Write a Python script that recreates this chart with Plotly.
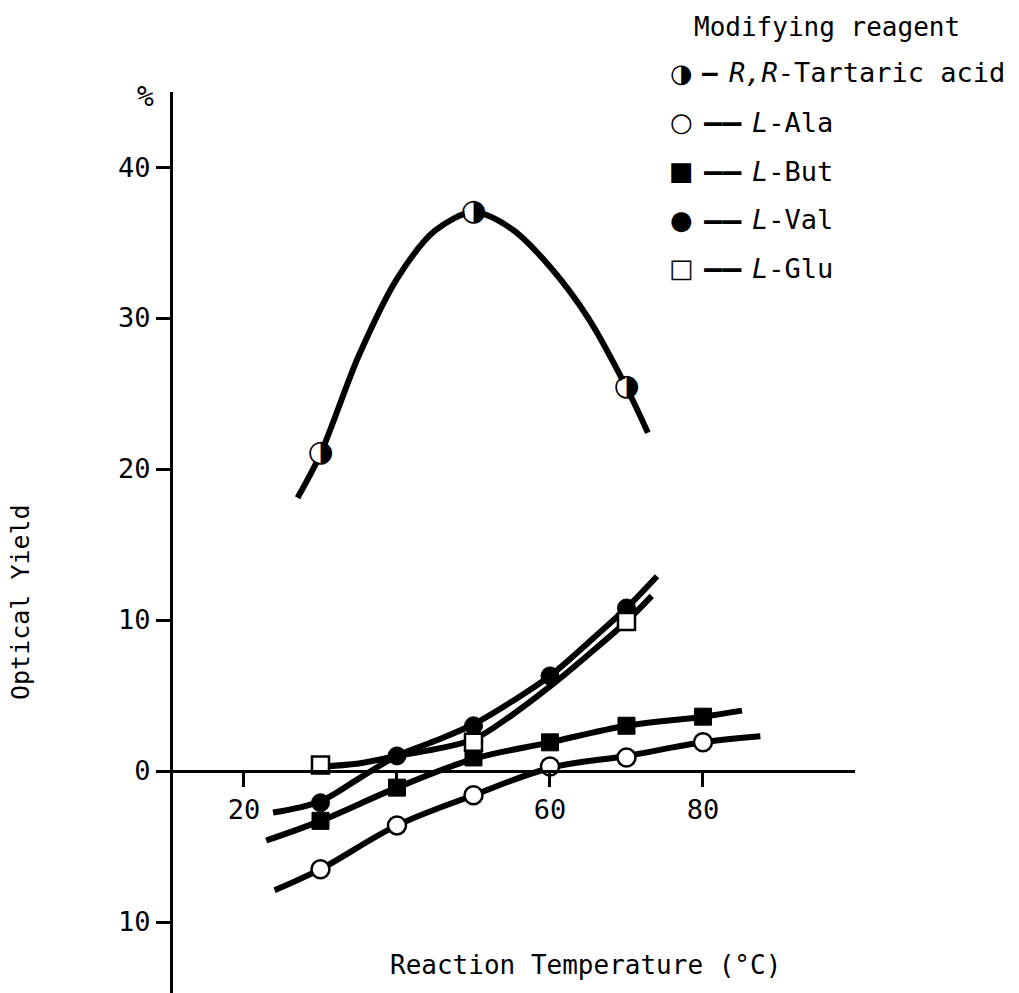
import plotly.graph_objects as go

# ---------------- data ----------------
temp_tart = [30, 50, 70]
yield_tart = [21.0, 37.0, 25.4]
temp_ala = [30, 40, 50, 60, 70, 80]
yield_ala = [-6.5, -3.6, -1.6, 0.3, 0.9, 1.9]
temp_but = [30, 40, 50, 60, 70, 80]
yield_but = [-3.3, -1.1, 0.9, 1.9, 3.0, 3.6]
temp_val = [30, 40, 50, 60, 70]
yield_val = [-2.1, 1.0, 3.0, 6.3, 10.8]
temp_glu = [30, 50, 70]
yield_glu = [0.4, 1.9, 9.9]

# hand-drawn fitted curves
curve_tart_x = [27.0, 30, 35, 40, 45, 50, 55, 60, 65, 70, 72.8]
curve_tart_y = [18.1, 21.0, 27.5, 32.6, 35.8, 37.0, 35.9, 33.4, 30.0, 25.4, 22.4]
curve_ala_x = [24.0, 30, 40, 50, 60, 70, 80, 87.5]
curve_ala_y = [-7.9, -6.5, -3.6, -1.6, 0.2, 1.0, 1.9, 2.3]
curve_but_x = [22.9, 30, 40, 50, 60, 70, 80, 85.1]
curve_but_y = [-4.6, -3.3, -1.1, 0.8, 1.9, 3.0, 3.6, 4.0]
curve_val_x = [23.8, 30, 35, 40, 45, 50, 55, 60, 65, 70, 74.0]
curve_val_y = [-2.75, -2.0, -0.5, 1.0, 2.0, 3.1, 4.6, 6.3, 8.5, 10.8, 12.9]
curve_glu_x = [30, 35, 40, 45, 50, 55, 60, 65, 70, 73.3]
curve_glu_y = [0.3, 0.5, 1.0, 1.45, 2.1, 3.7, 5.6, 7.7, 9.9, 11.6]

x_ticks = [20, 40, 60, 80]
x_ticktext = ["20", "", "60", "80"]
y_ticks = [-10, 0, 10, 20, 30, 40]
y_ticktext = ["10", "0", "10", "20", "30", "40"]

legend_title = "Modifying reagent"
legend_symbols = ["◑", "○", "■", "●", "□"]
legend_dashes = ["—", "——", "——", "——", "——"]
legend_labels = ["<i>R,R</i>-Tartaric acid", "<i>L</i>-Ala", "<i>L</i>-But", "<i>L</i>-Val", "<i>L</i>-Glu"]

# ---------------- layout geometry ----------------
W, H = 1019, 993
ML, MR, MT, MB = 173, 164, 92, 0
X_RANGE = [10.72, 99.87]
Y_RANGE = [-14.70, 44.97]
FONT = "DejaVu Sans Mono"


def px_x(px):
    return (px - ML) / (W - ML - MR)


def px_y(py):
    return (H - MB - py) / (H - MT - MB)


fig = go.Figure()

for cx, cy, sm in [(curve_tart_x, curve_tart_y, 0.9), (curve_ala_x, curve_ala_y, 1.0),
                   (curve_but_x, curve_but_y, 1.0), (curve_val_x, curve_val_y, 1.0),
                   (curve_glu_x, curve_glu_y, 1.0)]:
    fig.add_trace(go.Scatter(x=cx, y=cy, mode="lines",
                             line=dict(color="black", width=6, shape="spline", smoothing=sm),
                             hoverinfo="skip", showlegend=False))

# markers
fig.add_trace(go.Scatter(x=temp_ala, y=yield_ala, mode="markers", showlegend=False,
                         marker=dict(symbol="circle", size=18, color="white",
                                     line=dict(color="black", width=2.5))))
fig.add_trace(go.Scatter(x=temp_but, y=yield_but, mode="markers", showlegend=False,
                         marker=dict(symbol="square", size=17, color="black",
                                     line=dict(color="black", width=1))))
fig.add_trace(go.Scatter(x=temp_val, y=yield_val, mode="markers", showlegend=False,
                         marker=dict(symbol="circle", size=18, color="black",
                                     line=dict(color="black", width=1))))
fig.add_trace(go.Scatter(x=temp_glu, y=yield_glu, mode="markers", showlegend=False,
                         marker=dict(symbol="square", size=17, color="white",
                                     line=dict(color="black", width=2.5))))
# half-filled circles for tartaric acid: white disc + half-black glyph
fig.add_trace(go.Scatter(x=temp_tart, y=yield_tart, mode="markers", showlegend=False,
                         marker=dict(symbol="circle", size=18, color="white",
                                     line=dict(color="white", width=0))))
fig.add_trace(go.Scatter(x=temp_tart, y=yield_tart, mode="text", showlegend=False,
                         text=["◑"] * len(temp_tart), textposition="middle center",
                         textfont=dict(family="DejaVu Sans", size=30, color="black")))

x_axis_pos = (0 - Y_RANGE[0]) / (Y_RANGE[1] - Y_RANGE[0])

fig.update_layout(
    width=W, height=H,
    margin=dict(l=ML, r=MR, t=MT, b=MB, pad=0),
    paper_bgcolor="white", plot_bgcolor="white",
    font=dict(family=FONT, color="black", size=26),
    xaxis=dict(range=X_RANGE, anchor="free", position=x_axis_pos,
               showline=True, linecolor="black", linewidth=3,
               ticks="outside", ticklen=14, tickwidth=3, tickcolor="black",
               tickvals=x_ticks, ticktext=x_ticktext,
               tickfont=dict(family=FONT, size=27),
               showgrid=False, zeroline=False),
    yaxis=dict(range=Y_RANGE, showline=True, linecolor="black", linewidth=3,
               ticks="outside", ticklen=14, tickwidth=3, tickcolor="black",
               tickvals=y_ticks, ticktext=y_ticktext,
               tickfont=dict(family=FONT, size=27),
               showgrid=False, zeroline=False),
)

annotations = []
# axis titles
annotations.append(dict(text="Optical Yield", x=px_x(20), y=px_y(602), textangle=-90,
                        xref="paper", yref="paper", showarrow=False,
                        xanchor="center", yanchor="middle",
                        font=dict(family=FONT, size=25)))
annotations.append(dict(text="Reaction Temperature (°C)", x=px_x(585), y=px_y(965),
                        xref="paper", yref="paper", showarrow=False,
                        xanchor="center", yanchor="middle",
                        font=dict(family=FONT, size=26)))
annotations.append(dict(text="%", x=px_x(145), y=px_y(97),
                        xref="paper", yref="paper", showarrow=False,
                        xanchor="center", yanchor="middle",
                        font=dict(family=FONT, size=28)))
# legend
annotations.append(dict(text=legend_title, x=px_x(692), y=px_y(27),
                        xref="paper", yref="paper", showarrow=False,
                        xanchor="left", yanchor="middle",
                        font=dict(family=FONT, size=26)))
row_y = [73, 122, 171, 220, 268]
for i, (sym, dash, lab) in enumerate(zip(legend_symbols, legend_dashes, legend_labels)):
    yy = px_y(row_y[i])
    annotations.append(dict(text=sym, x=px_x(681), y=yy, xref="paper", yref="paper",
                            showarrow=False, xanchor="center", yanchor="middle",
                            font=dict(family="DejaVu Sans", size=26)))
    dash_x = 700 if i == 0 else 702
    annotations.append(dict(text=dash, x=px_x(dash_x), y=yy, xref="paper", yref="paper",
                            showarrow=False, xanchor="left", yanchor="middle",
                            font=dict(family=FONT, size=26 if i == 0 else 31, weight="bold")))
    lab_x = 727 if i == 0 else 750
    annotations.append(dict(text=lab, x=px_x(lab_x), y=yy, xref="paper", yref="paper",
                            showarrow=False, xanchor="left", yanchor="middle",
                            font=dict(family=FONT, size=27)))

fig.update_layout(annotations=annotations)

fig.write_html("out.html")
